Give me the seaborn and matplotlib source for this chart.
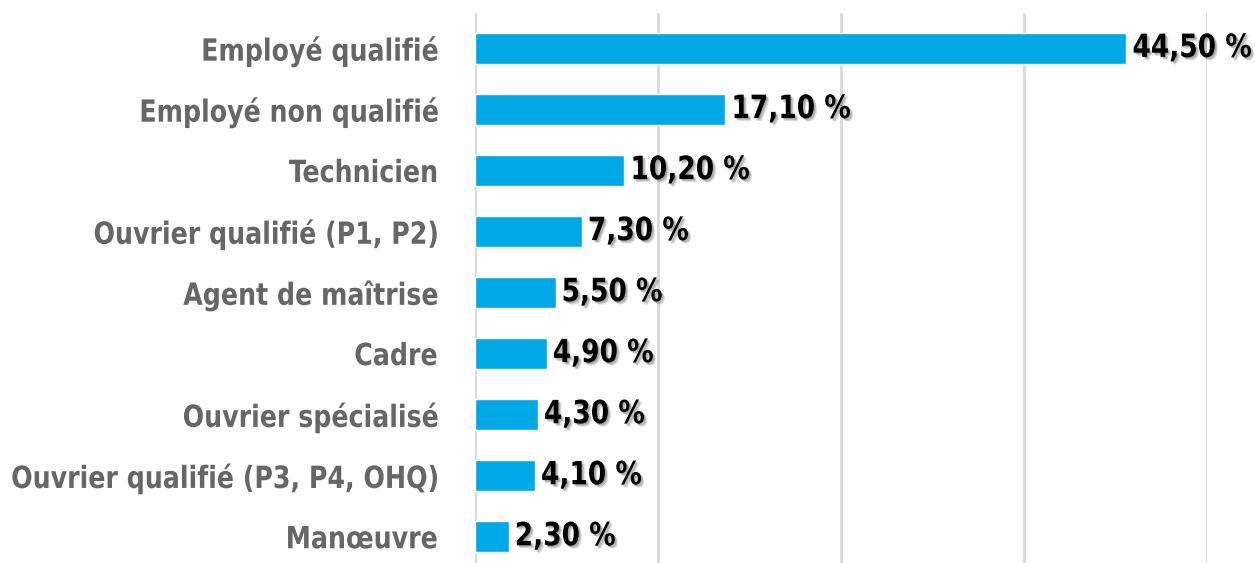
import matplotlib
matplotlib.use("Agg")
import matplotlib.pyplot as plt
import matplotlib.patheffects as pe
from matplotlib.transforms import Affine2D
import seaborn as sns
import pandas as pd

# Data
categories = [
    "Employé qualifié",
    "Employé non qualifié",
    "Technicien",
    "Ouvrier qualifié (P1, P2)",
    "Agent de maîtrise",
    "Cadre",
    "Ouvrier spécialisé",
    "Ouvrier qualifié (P3, P4, OHQ)",
    "Manœuvre",
]
values = [44.5, 17.1, 10.2, 7.3, 5.5, 4.9, 4.3, 4.1, 2.3]
grid_ticks = [0, 12.5, 25, 37.5, 50]


# squeeze text horizontally (condensed look), optional soft shadow
class Squeeze(pe.AbstractPathEffect):
    def __init__(self, sx, anchor="left", shadow=False):
        super().__init__()
        self.sx = sx
        self.anchor = anchor
        self.shadow = shadow

    def draw_path(self, renderer, gc, tpath, affine, rgbFace=None):
        ext = tpath.get_extents()
        x0 = ext.x1 if self.anchor == "right" else ext.x0
        t = Affine2D().translate(-x0, 0).scale(self.sx, 1).translate(x0, 0) + affine
        if self.shadow:
            for d in (1.0, 2.0, 3.0):
                gc0 = renderer.new_gc()
                gc0.copy_properties(gc)
                gc0.set_alpha(0.18)
                off = Affine2D().translate(d, -d)
                renderer.draw_path(gc0, tpath, t + off, (0.2, 0.2, 0.2))
                gc0.restore()
        renderer.draw_path(gc, tpath, t, rgbFace)


df = pd.DataFrame({"cat": categories, "val": values})

sns.set_style("white")
plt.rcParams["font.family"] = ["DejaVu Sans"]

fig = plt.figure(figsize=(12.55, 5.63), dpi=100)
ax = fig.add_axes([475 / 1255, 0.0, 732 / 1255, 550 / 563])

sns.barplot(data=df, x="val", y="cat", orient="h", color="#00A8E6",
            width=0.5, saturation=1, ax=ax)

ax.set_xlim(0, 50)
ax.set_ylim(8.43, -0.58)
ax.set_xticks(grid_ticks)
ax.set_xticklabels([])
ax.tick_params(axis="both", length=0)
ax.xaxis.grid(True, color="#D9D9D9", linewidth=2)
ax.set_axisbelow(True)
for s in ax.spines.values():
    s.set_visible(False)
ax.set_xlabel("")
ax.set_ylabel("")

ax.set_yticks(range(len(categories)))
ax.set_yticklabels(categories, fontsize=22, fontweight="bold", color="#666666",
                   fontstretch="condensed")
ax.tick_params(axis="y", pad=27)
for lab in ax.get_yticklabels():
    lab.set_path_effects([Squeeze(0.92, anchor="right")])

for i, v in enumerate(values):
    ax.text(v + 0.4, i, f"{v:.2f} %".replace(".", ","), va="center", ha="left",
            fontsize=23, fontweight="bold", color="black", fontstretch="condensed",
            clip_on=False, path_effects=[Squeeze(0.92, anchor="left", shadow=True)])

fig.savefig("out.png", dpi=100)
